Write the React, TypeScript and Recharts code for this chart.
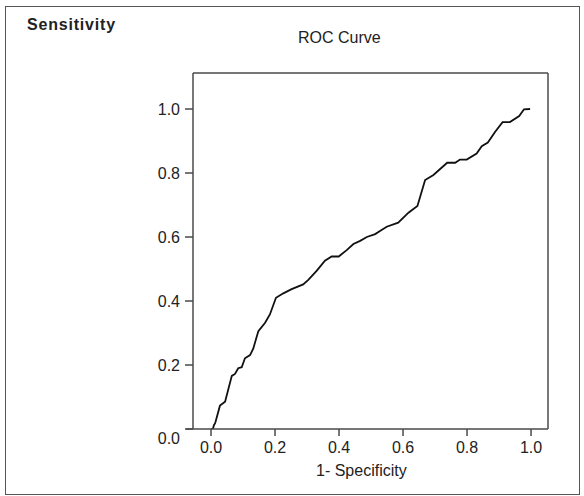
import {
  LineChart,
  Line,
  XAxis,
  YAxis,
  ReferenceLine,
} from "recharts";

// ROC curve points
const fpr = [
  0, 0.006, 0.009, 0.013, 0.028, 0.044, 0.065, 0.075, 0.085, 0.096, 0.106,
  0.122, 0.132, 0.148, 0.169, 0.184, 0.203, 0.226, 0.252, 0.288, 0.304, 0.33,
  0.356, 0.377, 0.399, 0.424, 0.445, 0.466, 0.487, 0.513, 0.528, 0.549, 0.585,
  0.617, 0.645, 0.669, 0.695, 0.738, 0.763, 0.778, 0.799, 0.83, 0.846, 0.865,
  0.888, 0.911, 0.934, 0.963, 0.978, 0.997,
];
const tpr = [
  0, 0, 0.012, 0.018, 0.073, 0.085, 0.166, 0.172, 0.19, 0.193, 0.221, 0.231,
  0.251, 0.306, 0.332, 0.358, 0.41, 0.424, 0.437, 0.452, 0.466, 0.494, 0.526,
  0.539, 0.539, 0.559, 0.578, 0.588, 0.6, 0.609, 0.619, 0.632, 0.645, 0.676,
  0.697, 0.778, 0.794, 0.832, 0.832, 0.842, 0.842, 0.861, 0.884, 0.895, 0.929,
  0.959, 0.959, 0.978, 0.999, 1.0,
];
const ticks = [0, 0.2, 0.4, 0.6, 0.8, 1.0];

const data = fpr.map((x, i) => ({ fpr: x, tpr: tpr[i] }));

const X_MIN = -0.05625;
const X_MAX = 1.053;
const Y_MAX = 1.1125;

const FONT = '"Liberation Sans", Arial, sans-serif';
const INK = "#222";
const FRAME = "#4a4a4a";

// the 0.0 label on the y axis sits a little below its tick
const YTick = (props: any) => {
  const { x, y, payload } = props;
  const v = Number(payload.value);
  return (
    <text
      x={x}
      y={v === 0 ? y + 9 : y}
      dy="0.355em"
      textAnchor="end"
      fill={INK}
      fontSize={16}
      fontFamily={FONT}
    >
      {v.toFixed(1)}
    </text>
  );
};

export default function App() {
  return (
    <div
      style={{
        position: "absolute",
        left: 0,
        top: 0,
        width: 584,
        height: 496,
        background: "#fff",
        fontFamily: FONT,
        color: INK,
      }}
    >
      <div
        style={{
          position: "absolute",
          left: 5,
          top: 6,
          width: 575,
          height: 489,
          border: "1px solid #555",
          boxSizing: "border-box",
        }}
      />
      <div style={{ position: "absolute", left: 0, top: 0 }}>
        <LineChart
          width={584}
          height={496}
          data={data}
          margin={{ top: 73, right: 36, bottom: 17, left: 133 }}
        >
          <XAxis
            dataKey="fpr"
            type="number"
            domain={[X_MIN, X_MAX]}
            ticks={ticks}
            allowDataOverflow
            tickFormatter={(v) => Number(v).toFixed(1)}
            height={50}
            tickSize={7}
            tickMargin={6}
            axisLine={{ stroke: FRAME, strokeWidth: 1.5 }}
            tickLine={{ stroke: FRAME, strokeWidth: 1.5 }}
            tick={{ fill: INK, fontSize: 16, fontFamily: FONT }}
          />
          <YAxis
            type="number"
            domain={[0, Y_MAX]}
            ticks={ticks}
            allowDataOverflow
            width={60}
            tickSize={8}
            tickMargin={5}
            axisLine={{ stroke: FRAME, strokeWidth: 1.5 }}
            tickLine={{ stroke: FRAME, strokeWidth: 1.5 }}
            tick={<YTick />}
          />
          {/* box top / right and the axis line running past the left edge */}
          <ReferenceLine y={Y_MAX} stroke={FRAME} strokeWidth={1.5} ifOverflow="visible" />
          <ReferenceLine x={X_MAX} stroke={FRAME} strokeWidth={1.5} ifOverflow="visible" />
          <ReferenceLine
            segment={[
              { x: -0.078, y: 0 },
              { x: X_MIN, y: 0 },
            ]}
            stroke={FRAME}
            strokeWidth={1.5}
            ifOverflow="visible"
          />
          <Line
            type="linear"
            dataKey="tpr"
            stroke="#111"
            strokeWidth={1.8}
            dot={false}
            isAnimationActive={false}
          />
        </LineChart>
      </div>
      <div
        style={{
          position: "absolute",
          left: 27,
          top: 17,
          fontSize: 16,
          lineHeight: "16px",
          fontWeight: "bold",
          letterSpacing: 0.8,
          whiteSpace: "nowrap",
        }}
      >
        Sensitivity
      </div>
      <div
        style={{
          position: "absolute",
          left: 298,
          top: 30,
          fontSize: 16,
          lineHeight: "16px",
          whiteSpace: "nowrap",
        }}
      >
        ROC Curve
      </div>
      <div
        style={{
          position: "absolute",
          left: 316,
          top: 463,
          fontSize: 16,
          lineHeight: "16px",
          whiteSpace: "nowrap",
        }}
      >
        1- Specificity
      </div>
    </div>
  );
}
